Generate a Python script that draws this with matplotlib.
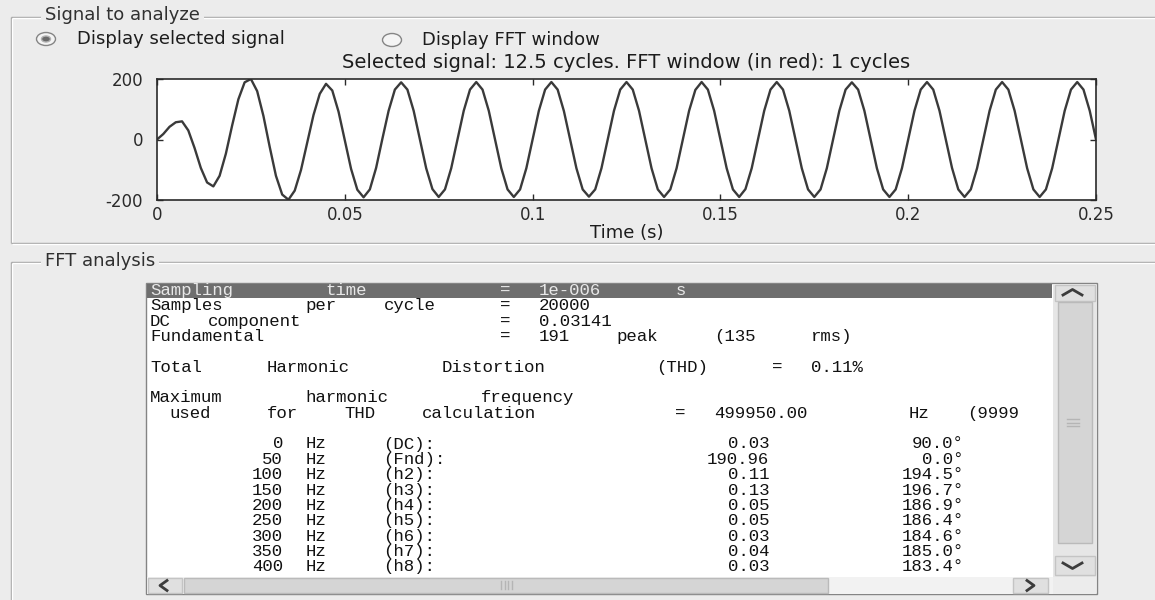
import re
import numpy as np
import matplotlib.pyplot as plt
from matplotlib.patches import Rectangle, Ellipse

sample_dt = 1 / 600
signal_v = [
    0, 18, 42, 57, 60, 30, -28, -94, -142, -155, -120, -47,
    46, 133, 189, 200, 160, 78, -24, -120, -182, -199, -169, -101,
    -10, 81, 151, 184, 162, 92, -3, -97, -166, -191, -165, -94,
    2, 95, 165, 189, 165, 95, 0, -95, -164, -190, -165, -95,
    0, 95, 165, 190, 165, 95, 0, -95, -165, -190, -165, -95,
    0, 95, 165, 190, 165, 94, 0, -95, -165, -189, -165, -95,
    0, 95, 165, 190, 165, 95, 0, -95, -165, -190, -165, -95,
    0, 95, 164, 190, 165, 95, 0, -95, -165, -190, -164, -95,
    0, 95, 165, 190, 165, 95, 0, -95, -165, -190, -165, -95,
    0, 95, 165, 189, 165, 95, 0, -95, -165, -190, -165, -95,
    0, 95, 165, 190, 165, 95, 0, -94, -165, -190, -165, -95,
    0, 95, 165, 190, 165, 95, 0, -95, -165, -190, -165, -95,
    0, 95, 165, 190, 165, 95, 0,
]

x_ticks = [0, 0.05, 0.1, 0.15, 0.2, 0.25]
x_tick_labels = ["0", "0.05", "0.1", "0.15", "0.2", "0.25"]
y_ticks = [-200, 0, 200]
y_tick_labels = ["-200", "0", "200"]

title = "Selected signal: 12.5 cycles. FFT window (in red): 1 cycles"

info_lines = [
    "Sampling time     = 1e-006 s",
    "Samples per cycle = 20000",
    "DC component      = 0.03141",
    "Fundamental       = 191 peak (135 rms)",
    "",
    "Total Harmonic Distortion (THD) = 0.11%",
    "",
    "Maximum harmonic frequency",
    " used for THD calculation  = 499950.00 Hz (9999",
    "",
]
harm_freq = [0, 50, 100, 150, 200, 250, 300, 350, 400]
harm_name = ["DC", "Fnd", "h2", "h3", "h4", "h5", "h6", "h7", "h8"]
harm_mag = [0.03, 190.96, 0.11, 0.13, 0.05, 0.05, 0.03, 0.04, 0.03]
harm_phase = [90.0, 0.0, 194.5, 196.7, 186.9, 186.4, 184.6, 185.0, 183.4]

panel_bg = "#ececec"
ink = "#1c1c1c"
sans = "DejaVu Sans"
mono = "Liberation Mono"

fig = plt.figure(figsize=(11.55, 6), dpi=100)
fig.patch.set_facecolor(panel_bg)

# whole-window axes in pixel units for the gui bits
bg = fig.add_axes([0, 0, 1, 1])
bg.set_xlim(0, 1155)
bg.set_ylim(600, 0)
bg.axis("off")


def etched(xs, ys):
    bg.plot(xs, ys, color="#a3a3a3", lw=1, solid_capstyle="butt")
    bg.plot(np.array(xs) + 1, np.array(ys) + 1, color="white", lw=1, solid_capstyle="butt")


# panel frames
etched([10.5, 10.5], [16.5, 243])
etched([10.5, 1160], [16.5, 16.5])
etched([10.5, 1160], [243, 243])
etched([10.5, 10.5], [262, 605])
etched([10.5, 1160], [262, 262])
hdr = dict(fontsize=13, family=sans, color="#303030", va="center", ha="left",
           bbox=dict(facecolor=panel_bg, edgecolor="none", pad=3))
bg.text(45, 15.5, "Signal to analyze", **hdr)
bg.text(45, 261, "FFT analysis", **hdr)

# radio buttons
for cx, cy, on in [(46, 39, True), (392, 40, False)]:
    bg.add_patch(Ellipse((cx, cy), 19, 13, facecolor="#f4f4f4", edgecolor="#858585", lw=1))
    if on:
        bg.add_patch(Ellipse((cx, cy), 9, 6, facecolor="#6a6a6a", edgecolor="#b0b0b0", lw=1))
bg.text(77, 39, "Display selected signal", fontsize=13, family=sans, color=ink, va="center")
bg.text(422, 40, "Display FFT window", fontsize=13, family=sans, color=ink, va="center")

# signal plot
ax = fig.add_axes([157 / 1155, 1 - 200 / 600, (1096 - 157) / 1155, (200 - 79) / 600])
t = np.arange(len(signal_v)) * sample_dt
ax.plot(t, signal_v, color="#3a3a3a", lw=1.7)
ax.set_xlim(0, 0.25)
ax.set_ylim(-200, 200)
ax.set_xticks(x_ticks, x_tick_labels)
ax.set_yticks(y_ticks, y_tick_labels)
ax.tick_params(direction="in", length=4, width=1, top=True, right=True,
               labelsize=12, colors="#2a2a2a")
ax.tick_params(axis="y", pad=10)
ax.tick_params(axis="x", pad=4)
for s in ax.spines.values():
    s.set_color("#2a2a2a")
    s.set_linewidth(1.2)
for lab in ax.get_xticklabels() + ax.get_yticklabels():
    lab.set_family(sans)
ax.set_xlabel("Time (s)", fontsize=13, family=sans, color=ink)
ax.xaxis.set_label_coords(0.5, -(233 - 200) / 121)
ax.xaxis.label.set_va("center")
ax.set_title(title, fontsize=14, family=sans, color=ink, pad=0, y=1 + 16 / 121, va="center")

# list box with the FFT report
lb_l, lb_t, lb_r, lb_b = 145.5, 282.5, 1097, 594
bg.add_patch(Rectangle((lb_l, lb_t), lb_r - lb_l, lb_b - lb_t, facecolor="white",
                       edgecolor="#848484", lw=1))
bg.add_patch(Rectangle((146.5, 283.5), 1052 - 146.5, 14, facecolor="#6e6e6e", edgecolor="none"))

table_lines = []
for f, n, m, p in zip(harm_freq, harm_name, harm_mag, harm_phase):
    s = f"{f:7d} Hz  ({n}):"
    mag = f"{m:.2f}"
    ph = f"{p:.1f}°"
    s = s.ljust(32 - len(mag)) + mag
    s = s.ljust(42 - len(ph)) + ph
    table_lines.append(s)

# the screen shot is stretched, so each word is pinned to its column
x0, cw = 149, 19.45
y0, rh = 290.5, 15.35
n_info = len(info_lines)
for i, line in enumerate(info_lines + table_lines):
    col = "#e8e8e8" if i == 0 else "#111111"
    for w in re.finditer(r"\S+", line):
        word = w.group()
        if i >= n_info and word[0].isdigit():
            xw, ha = x0 + w.end() * cw - 2, "right"
        else:
            xw, ha = x0 + w.start() * cw + 1, "left"
        bg.text(xw, y0 + i * rh, word, family=mono, fontsize=12.5, color=col,
                ha=ha, va="center")

# vertical scroll bar
bg.add_patch(Rectangle((1053, 283.5), 43, 293, facecolor="#e6e6e6", edgecolor="none"))
bg.add_patch(Rectangle((1054.5, 284.5), 40, 16, facecolor="#e0e0e0", edgecolor="#c4c4c4", lw=1))
bg.add_patch(Rectangle((1057.5, 302), 34, 241, facecolor="#d5d5d5", edgecolor="#bababa", lw=1))
bg.add_patch(Rectangle((1054.5, 556), 40, 19, facecolor="#e0e0e0", edgecolor="#c4c4c4", lw=1))
for gy in [419, 422.5, 426]:
    bg.plot([1067, 1079], [gy, gy], color="#b5b5b5", lw=1)
bg.plot([1063, 1072.5, 1082], [295, 289.5, 295], color="#3c3c3c", lw=2)
bg.plot([1063, 1072.5, 1082], [563, 568.5, 563], color="#3c3c3c", lw=2)

# horizontal scroll bar
bg.add_patch(Rectangle((146.5, 577), 906, 16.5, facecolor="#f2f2f2", edgecolor="none"))
bg.add_patch(Rectangle((147.5, 578), 34, 14.5, facecolor="#e0e0e0", edgecolor="#c4c4c4", lw=1))
bg.add_patch(Rectangle((184, 578), 644, 14.5, facecolor="#d5d5d5", edgecolor="#bababa", lw=1))
bg.add_patch(Rectangle((1013, 578), 35, 14.5, facecolor="#e0e0e0", edgecolor="#c4c4c4", lw=1))
for gx in [501, 504.5, 508, 511.5]:
    bg.plot([gx, gx], [581, 589], color="#b5b5b5", lw=1)
bg.plot([167, 160, 167], [580.5, 585.5, 590.5], color="#3c3c3c", lw=2)
bg.plot([1027, 1034, 1027], [580.5, 585.5, 590.5], color="#3c3c3c", lw=2)
bg.add_patch(Rectangle((1053, 577), 43, 16.5, facecolor=panel_bg, edgecolor="none"))

fig.savefig("out.png", dpi=100, facecolor=fig.get_facecolor())
